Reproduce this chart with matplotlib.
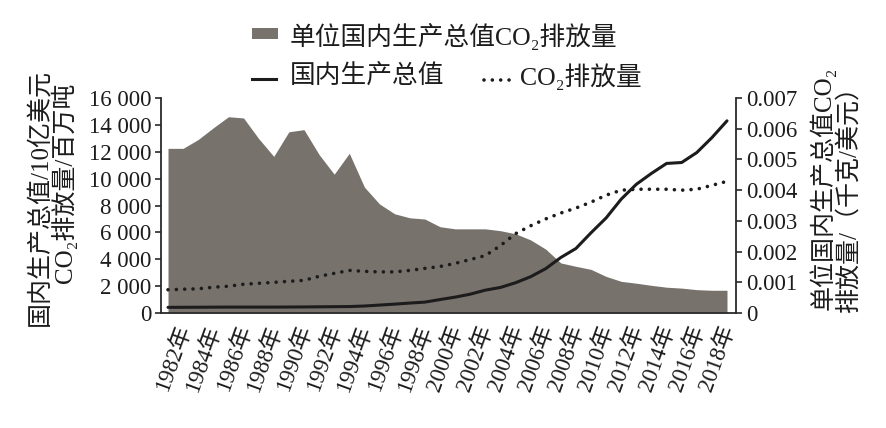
import matplotlib
matplotlib.use("Agg")
import matplotlib.pyplot as plt
from matplotlib.patches import Rectangle
from matplotlib.lines import Line2D
from matplotlib.transforms import ScaledTranslation

plt.rcParams['font.family'] = ['Liberation Serif', 'Noto Sans CJK SC', 'DejaVu Sans']

# ---------------- data ----------------
years = list(range(1982, 2020))
gdp = [420, 425, 430, 435, 440, 440, 440, 440, 445, 450,
       460, 470, 480, 520, 590, 660, 740, 810, 1000, 1180,
       1400, 1700, 1900, 2250, 2700, 3300, 4130, 4800, 5970, 7075,
       8475, 9580, 10390, 11130, 11200, 11940, 13050, 14300]
co2 = [1730, 1770, 1800, 1920, 1990, 2140, 2210, 2280, 2360, 2430,
       2730, 2950, 3170, 3100, 3060, 3060, 3170, 3320, 3460, 3690,
       3980, 4270, 5010, 5900, 6490, 7000, 7440, 7810, 8250, 8770,
       9140, 9210, 9210, 9210, 9140, 9210, 9500, 9800]
intensity = [0.00536, 0.00536, 0.00565, 0.00603, 0.00639, 0.00635, 0.00568, 0.00510, 0.00590, 0.00597,
             0.00516, 0.00452, 0.00520, 0.00410, 0.00355, 0.00323, 0.00310, 0.00306, 0.00281, 0.00274,
             0.00274, 0.00274, 0.00268, 0.00258, 0.00238, 0.00208, 0.00163, 0.00152, 0.00142, 0.00119,
             0.00103, 0.00097, 0.00090, 0.00084, 0.00081, 0.00076, 0.00074, 0.00074]

xtick_years = list(range(1982, 2019, 2))
xtick_labels = [f"{y}年" for y in xtick_years]
left_ticks = [0, 2000, 4000, 6000, 8000, 10000, 12000, 14000, 16000]
left_labels = ["0", "2 000", "4 000", "6 000", "8 000", "10 000", "12 000", "14 000", "16 000"]
right_ticks = [0, 0.001, 0.002, 0.003, 0.004, 0.005, 0.006, 0.007]
right_labels = ["0", "0.001", "0.002", "0.003", "0.004", "0.005", "0.006", "0.007"]

legend_area = "单位国内生产总值CO₂排放量"
legend_gdp = "国内生产总值"
legend_co2 = "CO₂排放量"
ylabel_left = ["国内生产总值/10亿美元", "CO₂排放量/百万吨"]
ylabel_right = ["单位国内生产总值CO₂", "排放量/（千克/美元）"]

# ---------------- figure ----------------
W, H = 886, 428
fig = plt.figure(figsize=(W / 100, H / 100), dpi=100)

def fx(px):
    return px / W

def fy(py):
    return 1 - py / H

area_color = '#78726d'
ink = '#1c1c1c'
TICK_FS = 16.5
TXT_FS = 18
LEG_FS = 18.5

ax_l, ax_r, ax_t, ax_b = 161, 736, 98, 313
ax = fig.add_axes([fx(ax_l), fy(ax_b), fx(ax_r) - fx(ax_l), fy(ax_t) - fy(ax_b)])
ax2 = ax.twinx()
ax.set_zorder(ax2.get_zorder() + 1)
ax.patch.set_visible(False)

# area on right axis
ax2.fill_between(years, 0, intensity, color=area_color, linewidth=0)
ax2.set_ylim(0, 0.007)

# lines on left axis
ax.plot(years, gdp, color=ink, lw=2.2, solid_capstyle='round')
ax.plot(years, co2, color=ink, lw=2.6, linestyle=(0, (0.01, 2.3)), dash_capstyle='round')
ax.set_ylim(0, 16000)

px_per_year = (727 - 168) / 37
ax.set_xlim(1982 - (168 - ax_l) / px_per_year, 2019 + (ax_r - 727) / px_per_year)

# spines
for a in (ax, ax2):
    a.spines['top'].set_visible(False)
ax.spines['right'].set_visible(False)
ax2.spines['left'].set_visible(False)
ax2.spines['bottom'].set_visible(False)
for s in ('left', 'bottom'):
    ax.spines[s].set_linewidth(1.3)
    ax.spines[s].set_color('#2a2a2a')
ax2.spines['right'].set_linewidth(1.3)
ax2.spines['right'].set_color('#2a2a2a')

# y ticks
ax.set_yticks(left_ticks)
ax.set_yticklabels(left_labels)
ax.tick_params(axis='y', direction='out', length=4, width=1.2, pad=3,
               labelsize=TICK_FS, colors='#2a2a2a', labelcolor=ink)
ax2.set_yticks(right_ticks)
ax2.set_yticklabels(right_labels)
ax2.tick_params(axis='y', direction='out', length=4, width=1.2, pad=3,
                labelsize=TICK_FS, colors='#2a2a2a', labelcolor=ink)

# x ticks
ax.set_xticks(xtick_years)
ax.set_xticklabels(xtick_labels, rotation=70, ha='right', va='top',
                   rotation_mode='anchor', fontsize=TICK_FS, color=ink)
ax.tick_params(axis='x', length=0, pad=7)
offset = ScaledTranslation(7 / 100, 0, fig.dpi_scale_trans)
for lab in ax.get_xticklabels():
    lab.set_transform(lab.get_transform() + offset)

# y labels
fig.text(fx(40), fy(197), ylabel_left[0], rotation=90, ha='center', va='center', fontsize=TXT_FS, color=ink)
fig.text(fx(64), fy(183), ylabel_left[1], rotation=90, ha='center', va='center', fontsize=TXT_FS, color=ink)
fig.text(fx(822), fy(188), ylabel_right[0], rotation=90, ha='center', va='center', fontsize=TXT_FS, color=ink)
fig.text(fx(849), fy(192), ylabel_right[1], rotation=90, ha='center', va='center', fontsize=TXT_FS, color=ink)

# legend (manual)
fig.add_artist(Rectangle((fx(252), fy(39)), fx(278) - fx(252), fy(28) - fy(39),
                         transform=fig.transFigure, facecolor=area_color, edgecolor='none'))
fig.text(fx(290), fy(37), legend_area, ha='left', va='center', fontsize=LEG_FS, color=ink)
fig.add_artist(Line2D([fx(252), fx(276)], [fy(79), fy(79)], transform=fig.transFigure,
                      color=ink, lw=2.2))
fig.text(fx(290), fy(77), legend_gdp, ha='left', va='center', fontsize=LEG_FS, color=ink)
fig.add_artist(Line2D([fx(484), fx(510)], [fy(80), fy(80)], transform=fig.transFigure,
                      color=ink, lw=2.6, linestyle=(0, (0.01, 2.3)), dash_capstyle='round'))
fig.text(fx(520), fy(77), legend_co2, ha='left', va='center', fontsize=LEG_FS, color=ink)

fig.savefig("out.png", dpi=100)
